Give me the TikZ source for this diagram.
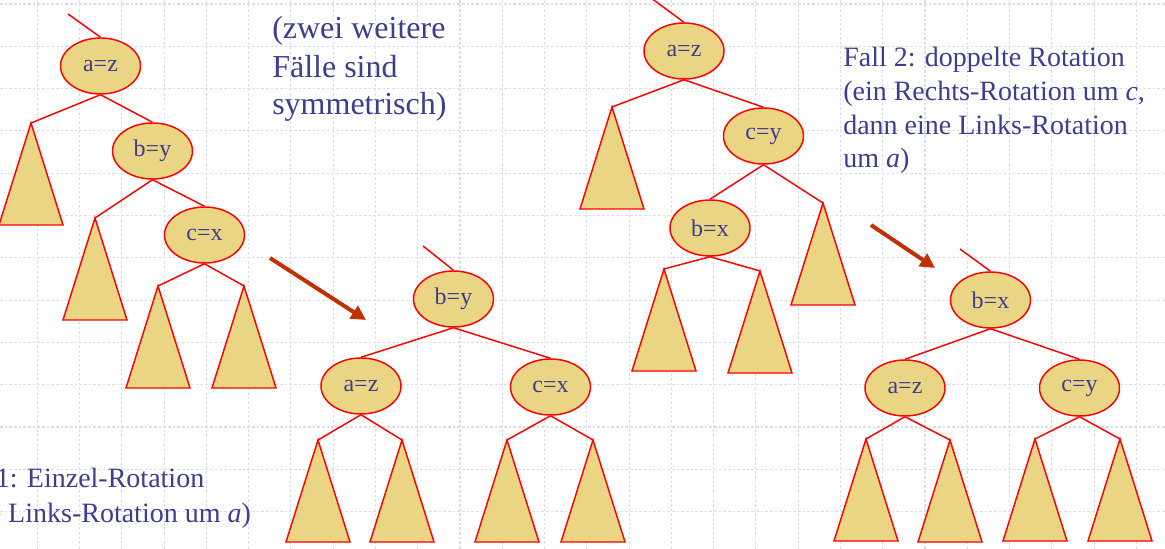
\documentclass[tikz,border=0pt]{standalone}
\usepackage{fontspec}
\setmainfont{Liberation Serif}
\usetikzlibrary{arrows.meta,shapes.geometric}
\definecolor{gridc}{RGB}{218,222,244}
\definecolor{goldf}{RGB}{233,213,132}
\definecolor{redl}{RGB}{255,0,0}
\definecolor{txtb}{RGB}{62,62,142}
\definecolor{arrc}{RGB}{192,48,0}
\tikzset{
  knot/.style={ellipse,draw=redl,fill=goldf,line width=1.1pt,minimum width=60pt,minimum height=42pt,inner sep=0pt,text=txtb,font=\fontsize{18}{20}\selectfont},
  edge/.style={draw=redl,line width=1.1pt},
  subtree/.style={draw=redl,fill=goldf,line width=1.1pt,line join=miter},
  bigarrow/.style={draw=arrc,line width=3pt,-{Triangle[length=11pt,width=11pt]}},
  gridline/.style={draw=gridc,line width=0.8pt,dash pattern=on 2pt off 1.5pt},
  bigtxt/.style={anchor=base west,inner sep=0pt,text=txtb,font=\fontsize{24}{28}\selectfont},
  midtxt/.style={anchor=base west,inner sep=0pt,text=txtb,font=\fontsize{21}{25}\selectfont},
}
\begin{document}
\begin{tikzpicture}[x=0.75pt,y=-0.75pt]
\useasboundingbox (0,0) rectangle (1165,549);
\clip (0,0) rectangle (1165,549);
\fill[white] (0,0) rectangle (1165,549);
% grid
\foreach \k in {0,...,26} { \draw[gridline] ({37.3+42.27*\k},0) -- ({37.3+42.27*\k},549); }
\foreach \k in {0,...,12} { \draw[gridline] (0,{4+42.3*\k}) -- (1165,{4+42.3*\k}); }

% ---------- Tree 1 ----------
\coordinate (in1) at (68,14);
\node[knot] (az1) at (100.5,66) {a=z};
\node[knot] (by1) at (152.5,151) {b=y};
\node[knot] (cx1) at (204.5,235) {c=x};
\coordinate (t1a) at (31,123);
\coordinate (t1b) at (95,218);
\coordinate (t1c) at (158,286);
\coordinate (t1d) at (244,286);
\foreach \t in {t1a,t1b,t1c,t1d} { \draw[subtree] (\t) -- ++(-32,102) -- ++(64,0) -- cycle; }
\draw[edge] (in1) -- (az1.north);
\draw[edge] (az1.south) -- (t1a);
\draw[edge] (az1.south) -- (by1.north);
\draw[edge] (by1.south) -- (t1b);
\draw[edge] (by1.south) -- (cx1.north);
\draw[edge] (cx1.south) -- (t1c);
\draw[edge] (cx1.south) -- (t1d);

% ---------- Tree 2 ----------
\coordinate (in2) at (423,246);
\node[knot] (by2) at (453.5,299) {b=y};
\node[knot] (az2) at (361,386) {a=z};
\node[knot] (cx2) at (550.5,387) {c=x};
\coordinate (t2a) at (318,440);
\coordinate (t2b) at (402,440);
\coordinate (t2c) at (507,440);
\coordinate (t2d) at (593,440);
\foreach \t in {t2a,t2b,t2c,t2d} { \draw[subtree] (\t) -- ++(-32,102) -- ++(64,0) -- cycle; }
\draw[edge] (in2) -- (by2.north);
\draw[edge] (by2.south) -- (az2.north);
\draw[edge] (by2.south) -- (cx2.north);
\draw[edge] (az2.south) -- (t2a);
\draw[edge] (az2.south) -- (t2b);
\draw[edge] (cx2.south) -- (t2c);
\draw[edge] (cx2.south) -- (t2d);

% ---------- Tree 3 ----------
\coordinate (in3) at (651,-2);
\node[knot] (az3) at (684,51) {a=z};
\node[knot] (cy3) at (763.5,136) {c=y};
\node[knot] (bx3) at (710,228) {b=x};
\coordinate (t3a) at (612,107);
\coordinate (t3b) at (823,203);
\coordinate (t3c) at (664,269);
\coordinate (t3d) at (760,271);
\foreach \t in {t3a,t3b,t3c,t3d} { \draw[subtree] (\t) -- ++(-32,102) -- ++(64,0) -- cycle; }
\draw[edge] (in3) -- (az3.north);
\draw[edge] (az3.south) -- (t3a);
\draw[edge] (az3.south) -- (cy3.north);
\draw[edge] (cy3.south) -- (bx3.north);
\draw[edge] (cy3.south) -- (t3b);
\draw[edge] (bx3.south) -- (t3c);
\draw[edge] (bx3.south) -- (t3d);

% ---------- Tree 4 ----------
\coordinate (in4) at (960,249);
\node[knot] (bx4) at (990.5,300) {b=x};
\node[knot] (az4) at (905,388) {a=z};
\node[knot] (cy4) at (1079.5,388) {c=y};
\coordinate (t4a) at (866,439);
\coordinate (t4b) at (950,440);
\coordinate (t4c) at (1035,439);
\coordinate (t4d) at (1120,439);
\foreach \t in {t4a,t4b,t4c,t4d} { \draw[subtree] (\t) -- ++(-32,102) -- ++(64,0) -- cycle; }
\draw[edge] (in4) -- (bx4.north);
\draw[edge] (bx4.south) -- (az4.north);
\draw[edge] (bx4.south) -- (cy4.north);
\draw[edge] (az4.south) -- (t4a);
\draw[edge] (az4.south) -- (t4b);
\draw[edge] (cy4.south) -- (t4c);
\draw[edge] (cy4.south) -- (t4d);

% ---------- arrows ----------
\coordinate (a1s) at (270,258);
\coordinate (a1e) at (366,320);
\coordinate (a2s) at (871,225);
\coordinate (a2e) at (935,268);
\draw[bigarrow] (a1s) -- (a1e);
\draw[bigarrow] (a2s) -- (a2e);

% ---------- texts ----------
\node[bigtxt] (z1) at (272,39) {(zwei weitere};
\node[bigtxt] (z2) at (272,78) {Fälle sind};
\node[bigtxt] (z3) at (272,115) {symmetrisch)};

\node[midtxt] (f21) at (843,67) {Fall 2: doppelte Rotation};
\node[midtxt] (f22) at (843,101) {(ein Rechts-Rotation um \textit{c},};
\node[midtxt] (f23) at (843,135) {dann eine Links-Rotation};
\node[midtxt] (f24) at (843,168) {um \textit{a})};

\node[midtxt] (f11) at (-55,487) {Fall 1: Einzel-Rotation};
\node[midtxt] (f12) at (-55,522) {(eine Links-Rotation um \textit{a})};
\end{tikzpicture}
\end{document}
